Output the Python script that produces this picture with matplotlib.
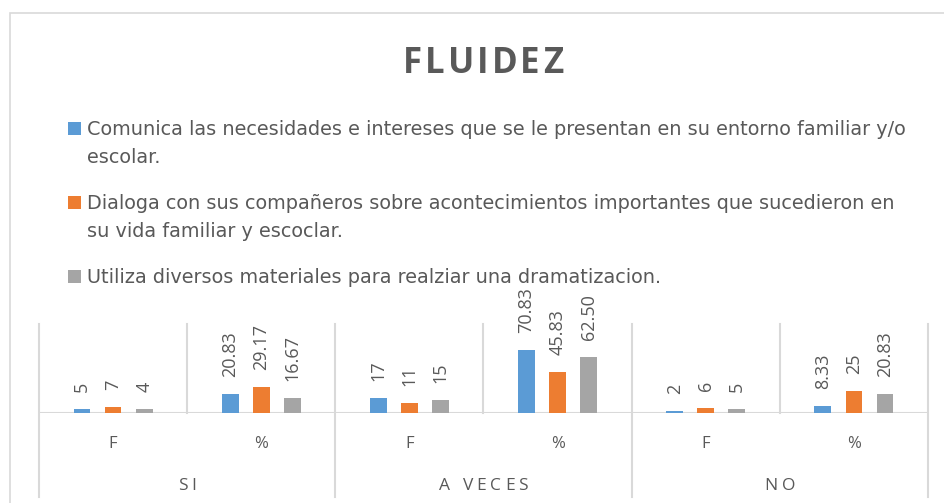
import numpy as np
import matplotlib
matplotlib.use("Agg")
import matplotlib.pyplot as plt
from matplotlib.patches import Rectangle

# ---------------- data ----------------
title = "FLUIDEZ"
groups = ["SI", "A VECES", "NO"]
subcats = ["F", "%"]
series_names = [
    "Comunica las necesidades e intereses que se le presentan en su entorno familiar y/o escolar.",
    "Dialoga con sus compañeros sobre acontecimientos importantes que sucedieron en su vida familiar y escoclar.",
    "Utiliza diversos materiales para realziar una dramatizacion.",
]
comunica = [5, 20.83, 17, 70.83, 2, 8.33]
dialoga = [7, 29.17, 11, 45.83, 6, 25]
utiliza = [4, 16.67, 15, 62.50, 5, 20.83]
series_values = [comunica, dialoga, utiliza]
colors = ["#5B9BD5", "#ED7D31", "#A5A5A5"]

# ---------------- style ----------------
W, H, DPI = 945, 503, 100
FONT = ["Open Sans", "DejaVu Sans"]
LEG_FONT = ["DejaVu Sans"]
TXT = "#595959"
GRID = "#D9D9D9"

fig = plt.figure(figsize=(W / DPI, H / DPI), dpi=DPI)
fig.patch.set_facecolor("white")
renderer = fig.canvas.get_renderer()


def fx(x):
    return x / W


def fy(y):
    return 1 - y / H


def text_width(s, size, weight="normal", family=FONT):
    t = fig.text(0, 0, s, fontsize=size, family=family, fontweight=weight)
    w = t.get_window_extent(renderer).width
    t.remove()
    return w


def spaced_text(cx, y, s, size, gap, weight="normal", space_w=3.5):
    """Draw text centred at cx (pixels) with extra letter spacing."""
    widths = [space_w if ch == " " else text_width(ch, size, weight) for ch in s]
    total = sum(widths) + gap * (len(s) - 1)
    x = cx - total / 2
    for ch, w in zip(s, widths):
        if ch != " ":
            fig.text(fx(x), fy(y), ch, fontsize=size, family=FONT,
                     fontweight=weight, color=TXT, ha="left", va="baseline")
        x += w + gap


def wrap(s, size, maxw, family):
    lines, cur = [], ""
    for word in s.split(" "):
        cand = word if not cur else cur + " " + word
        if text_width(cand, size, family=family) <= maxw or not cur:
            cur = cand
        else:
            lines.append(cur)
            cur = word
    lines.append(cur)
    return lines


# chart border
fig.patches.append(Rectangle((fx(10), fy(530)), fx(1000), fy(13) - fy(530),
                             transform=fig.transFigure, fill=False,
                             edgecolor=GRID, lw=1.2))

# title
spaced_text(483, 73, title, 25, 3.0, weight="bold")

# legend
leg_size = 13.85
line_h = 28
y_base = 135
for name, col in zip(series_names, colors):
    lines = wrap(name, leg_size, 830, LEG_FONT)
    fig.patches.append(Rectangle((fx(68), fy(y_base)), fx(13), fy(y_base - 13) - fy(y_base),
                                 transform=fig.transFigure, facecolor=col, edgecolor="none"))
    for k, ln in enumerate(lines):
        fig.text(fx(87), fy(y_base + k * line_h), ln, fontsize=leg_size, family=LEG_FONT,
                 color=TXT, ha="left", va="baseline")
    y_base += len(lines) * line_h + 18

# plot area
X0, X1, YB, YT = 39, 928, 413, 324
ax = fig.add_axes([fx(X0), fy(YB), fx(X1) - fx(X0), fy(YT) - fy(YB)])
ncat = len(groups) * len(subcats)
ax.set_xlim(0, ncat)
ax.set_ylim(0, 100)
ax.axis("off")

x = np.arange(ncat) + 0.5
offsets = [-0.21, 0.0, 0.21]
bw = 0.113


def fmt(v):
    return str(int(v)) if float(v).is_integer() else f"{v:.2f}"


for vals, col, off in zip(series_values, colors, offsets):
    ax.bar(x + off, vals, bw, color=col, zorder=3)
    for xi, v in zip(x + off, vals):
        ax.annotate(fmt(v), (xi, v), xytext=(0, 17), textcoords="offset pixels",
                    rotation=90, ha="center", va="bottom", fontsize=13,
                    family=FONT, color=TXT, annotation_clip=False)

# grid / separators
ax.axhline(0, color=GRID, lw=1.5, zorder=2)
yb_lab = (YB - 497) / (YB - YT)
for i in range(ncat + 1):
    lo = yb_lab if i % len(subcats) == 0 else 0
    ax.plot([i, i], [lo, 1], transform=ax.get_xaxis_transform(),
            color=GRID, lw=1.5, clip_on=False, zorder=1)

# category labels
cat_y = (YB - 448) / (YB - YT)
for i, xi in enumerate(x):
    ax.text(xi, cat_y, subcats[i % len(subcats)], transform=ax.get_xaxis_transform(),
            ha="center", va="baseline", fontsize=12, family=FONT, color=TXT)

# group labels
step = (X1 - X0) / ncat
for g, name in enumerate(groups):
    cx = X0 + step * (len(subcats) * g + len(subcats) / 2)
    spaced_text(cx, 490, name, 12.5, 3.8, space_w=5)

fig.savefig("out.png", dpi=DPI, facecolor="white")
